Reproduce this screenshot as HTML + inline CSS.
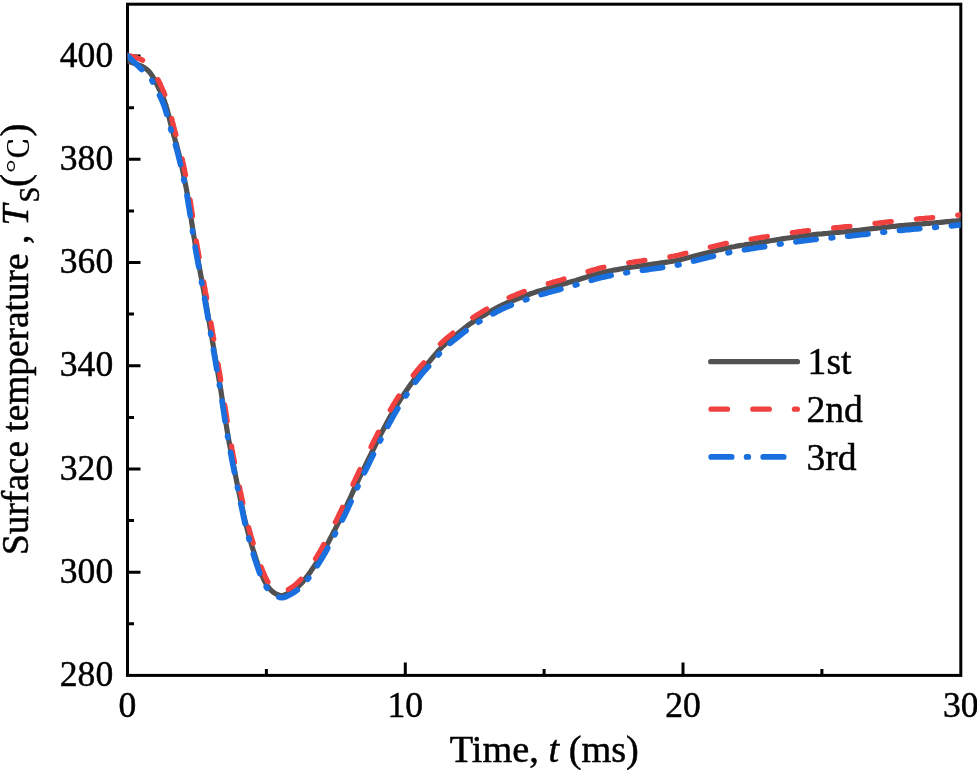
<!DOCTYPE html>
<html lang="en">
<head>
<meta charset="utf-8">
<title>Surface temperature vs time</title>
<style>
html,body{margin:0;padding:0;background:#fff;}
body{width:977px;height:770px;overflow:hidden;position:relative;font-family:"Liberation Serif","Times New Roman",serif;}
</style>
</head>
<body>
<svg width="977" height="770" viewBox="0 0 977 770" style="position:absolute;left:0;top:0">
<rect x="0" y="0" width="977" height="770" fill="#ffffff"/>
<rect x="127.5" y="4.2" width="833.3" height="671.2" fill="none" stroke="#000" stroke-width="3"/>
<path d="M127.5,623.8h6.5 M127.5,572.2h13 M127.5,520.6h6.5 M127.5,469.0h13 M127.5,417.4h6.5 M127.5,365.8h13 M127.5,314.1h6.5 M127.5,262.5h13 M127.5,210.9h6.5 M127.5,159.3h13 M127.5,107.7h6.5 M127.5,56.1h13 M266.4,675.4v-6.5 M405.3,675.4v-13 M544.1,675.4v-6.5 M683.0,675.4v-13 M821.9,675.4v-6.5" stroke="#000" stroke-width="3" fill="none"/>
<defs><clipPath id="plotclip"><rect x="127.5" y="4.2" width="833.3" height="671.2"/></clipPath></defs>
<g fill="none" stroke-linecap="round" stroke-linejoin="round" clip-path="url(#plotclip)">
<path d="M127.0,60.8 L128.8,61.5 L130.7,62.1 L132.6,62.8 L134.6,63.4 L136.5,64.1 L138.5,64.9 L140.4,65.7 L142.3,66.5 L144.0,67.5 L145.7,68.6 L147.3,69.8 L148.7,71.2 L150.0,72.7 L151.2,74.3 L152.3,76.0 L153.4,77.8 L154.4,79.6 L155.3,81.4 L156.3,83.3 L157.2,85.1 L158.1,86.9 L159.0,88.8 L159.9,90.6 L160.8,92.4 L161.6,94.3 L162.4,96.1 L163.2,98.0 L164.0,99.8 L164.7,101.7 L165.3,103.6 L166.0,105.5 L166.5,107.4 L167.1,109.4 L167.6,111.3 L168.1,113.3 L168.6,115.2 L169.1,117.2 L169.5,119.2 L170.0,121.2 L170.5,123.1 L171.0,125.1 L171.5,127.1 L172.0,129.0 L172.5,131.0 L173.1,132.9 L173.7,134.9 L174.2,136.8 L174.8,138.7 L175.3,140.7 L175.9,142.6 L176.5,144.6 L177.0,146.5 L177.5,148.5 L178.0,150.4 L178.5,152.4 L179.0,154.3 L179.5,156.3 L180.0,158.3 L180.4,160.2 L180.9,162.2 L181.3,164.2 L181.7,166.2 L182.2,168.2 L182.6,170.1 L183.0,172.1 L183.4,174.1 L183.8,176.1 L184.2,178.1 L184.6,180.0 L185.0,182.0 L185.4,184.0 L185.8,186.0 L186.2,188.0 L186.6,190.0 L186.9,192.0 L187.3,193.9 L187.6,195.9 L188.0,197.9 L188.3,199.9 L188.6,201.9 L189.0,203.9 L189.3,205.9 L189.6,207.9 L189.9,209.9 L190.2,211.9 L190.5,213.9 L190.8,215.9 L191.1,217.9 L191.4,219.9 L191.6,221.9 L192.0,223.9 L192.3,225.9 L192.6,227.9 L192.9,229.9 L193.2,231.9 L193.5,233.9 L193.8,235.9 L194.2,237.9 L194.5,239.9 L194.8,241.9 L195.2,243.9 L195.5,245.9 L195.8,247.9 L196.2,249.9 L196.5,251.9 L196.9,253.9 L197.2,255.9 L197.6,257.9 L198.0,259.8 L198.3,261.8 L198.7,263.8 L199.1,265.8 L199.4,267.8 L199.8,269.8 L200.2,271.8 L200.5,273.8 L200.9,275.8 L201.3,277.7 L201.7,279.7 L202.0,281.7 L202.4,283.7 L202.8,285.7 L203.1,287.7 L203.5,289.7 L203.9,291.7 L204.2,293.7 L204.6,295.6 L204.9,297.6 L205.3,299.6 L205.7,301.6 L206.0,303.6 L206.4,305.6 L206.7,307.6 L207.1,309.6 L207.4,311.6 L207.7,313.6 L208.1,315.6 L208.4,317.6 L208.8,319.6 L209.1,321.5 L209.5,323.5 L209.8,325.5 L210.1,327.5 L210.5,329.5 L210.8,331.5 L211.2,333.5 L211.5,335.5 L211.9,337.5 L212.2,339.5 L212.5,341.5 L212.9,343.5 L213.2,345.5 L213.6,347.5 L213.9,349.5 L214.2,351.5 L214.6,353.4 L214.9,355.4 L215.3,357.4 L215.6,359.4 L216.0,361.4 L216.3,363.4 L216.6,365.4 L217.0,367.4 L217.3,369.4 L217.7,371.4 L218.0,373.4 L218.3,375.4 L218.7,377.4 L219.0,379.4 L219.4,381.4 L219.7,383.4 L220.0,385.4 L220.3,387.3 L220.7,389.3 L221.0,391.3 L221.3,393.3 L221.6,395.3 L221.9,397.3 L222.2,399.3 L222.5,401.3 L222.9,403.3 L223.2,405.3 L223.5,407.3 L223.8,409.3 L224.1,411.3 L224.4,413.3 L224.7,415.3 L225.0,417.3 L225.3,419.3 L225.6,421.3 L225.9,423.3 L226.3,425.3 L226.6,427.3 L226.9,429.3 L227.3,431.3 L227.6,433.3 L227.9,435.3 L228.3,437.3 L228.6,439.3 L229.0,441.3 L229.3,443.3 L229.7,445.3 L230.1,447.2 L230.5,449.2 L230.8,451.2 L231.2,453.2 L231.6,455.2 L232.0,457.2 L232.3,459.2 L232.7,461.2 L233.1,463.1 L233.5,465.1 L233.9,467.1 L234.3,469.1 L234.7,471.1 L235.1,473.1 L235.4,475.1 L235.8,477.0 L236.2,479.0 L236.6,481.0 L237.0,483.0 L237.4,485.0 L237.9,486.9 L238.3,488.9 L238.7,490.9 L239.1,492.9 L239.5,494.9 L239.9,496.8 L240.3,498.8 L240.8,500.8 L241.2,502.8 L241.6,504.8 L242.0,506.7 L242.4,508.7 L242.9,510.7 L243.3,512.7 L243.7,514.6 L244.2,516.6 L244.6,518.6 L245.1,520.6 L245.5,522.5 L246.0,524.5 L246.5,526.5 L247.0,528.4 L247.5,530.4 L248.0,532.3 L248.5,534.3 L249.1,536.3 L249.6,538.2 L250.2,540.1 L250.8,542.1 L251.3,544.0 L251.9,546.0 L252.5,547.9 L253.1,549.8 L253.7,551.7 L254.4,553.7 L255.0,555.6 L255.6,557.5 L256.2,559.4 L256.9,561.3 L257.5,563.3 L258.2,565.2 L258.9,567.1 L259.6,569.0 L260.3,570.9 L261.0,572.8 L261.7,574.7 L262.5,576.6 L263.3,578.4 L264.2,580.3 L265.1,582.1 L266.1,583.9 L267.2,585.6 L268.3,587.2 L269.6,588.8 L271.0,590.3 L272.5,591.6 L274.1,592.8 L275.9,593.9 L277.8,594.8 L279.7,595.3 L281.7,595.5 L283.7,595.2 L285.6,594.5 L287.5,593.6 L289.3,592.6 L291.1,591.5 L292.8,590.4 L294.5,589.3 L296.1,588.1 L297.7,586.9 L299.2,585.5 L300.6,584.1 L302.0,582.7 L303.3,581.2 L304.6,579.6 L305.9,578.0 L307.1,576.4 L308.3,574.7 L309.5,573.1 L310.7,571.4 L311.8,569.7 L313.0,568.1 L314.1,566.4 L315.2,564.7 L316.4,563.0 L317.4,561.3 L318.5,559.6 L319.6,557.9 L320.6,556.2 L321.6,554.4 L322.6,552.7 L323.6,550.9 L324.6,549.2 L325.6,547.4 L326.6,545.6 L327.5,543.8 L328.5,542.0 L329.4,540.2 L330.3,538.4 L331.3,536.6 L332.2,534.8 L333.1,533.0 L334.0,531.2 L335.0,529.4 L335.9,527.6 L336.8,525.8 L337.7,524.0 L338.7,522.2 L339.6,520.4 L340.5,518.6 L341.4,516.8 L342.3,515.0 L343.1,513.2 L344.0,511.3 L344.9,509.5 L345.7,507.7 L346.6,505.8 L347.4,504.0 L348.3,502.2 L349.1,500.3 L349.9,498.5 L350.8,496.6 L351.6,494.8 L352.4,492.9 L353.2,491.1 L354.1,489.2 L354.9,487.4 L355.8,485.6 L356.6,483.7 L357.5,481.9 L358.3,480.1 L359.2,478.2 L360.1,476.4 L360.9,474.6 L361.8,472.8 L362.7,471.0 L363.6,469.1 L364.5,467.3 L365.4,465.5 L366.3,463.7 L367.1,461.9 L368.0,460.0 L368.9,458.2 L369.8,456.4 L370.7,454.6 L371.6,452.8 L372.5,451.0 L373.4,449.2 L374.3,447.3 L375.2,445.5 L376.1,443.7 L377.0,441.9 L377.9,440.1 L378.8,438.3 L379.7,436.5 L380.6,434.7 L381.5,432.9 L382.5,431.1 L383.4,429.3 L384.3,427.5 L385.3,425.7 L386.2,423.9 L387.2,422.1 L388.2,420.4 L389.1,418.6 L390.1,416.8 L391.1,415.0 L392.1,413.3 L393.1,411.5 L394.1,409.8 L395.2,408.0 L396.2,406.3 L397.2,404.6 L398.3,402.9 L399.4,401.1 L400.5,399.4 L401.6,397.7 L402.7,396.0 L403.8,394.4 L404.9,392.7 L406.1,391.0 L407.2,389.3 L408.4,387.7 L409.5,386.0 L410.7,384.4 L411.9,382.7 L413.1,381.1 L414.3,379.4 L415.5,377.8 L416.7,376.2 L418.0,374.7 L419.2,373.1 L420.5,371.5 L421.9,370.0 L423.2,368.5 L424.5,367.0 L425.9,365.4 L427.2,363.9 L428.5,362.4 L429.9,360.9 L431.2,359.3 L432.5,357.8 L433.8,356.2 L435.1,354.7 L436.4,353.1 L437.7,351.6 L439.1,350.1 L440.4,348.6 L441.8,347.2 L443.3,345.8 L444.8,344.4 L446.3,343.0 L447.8,341.7 L449.3,340.4 L450.9,339.1 L452.5,337.8 L454.1,336.6 L455.6,335.3 L457.2,334.0 L458.8,332.7 L460.4,331.5 L461.9,330.2 L463.5,328.9 L465.1,327.7 L466.7,326.4 L468.3,325.2 L469.9,324.0 L471.6,322.8 L473.3,321.7 L475.0,320.6 L476.7,319.5 L478.4,318.5 L480.1,317.5 L481.9,316.4 L483.6,315.4 L485.4,314.4 L487.1,313.3 L488.9,312.3 L490.6,311.3 L492.4,310.3 L494.1,309.3 L495.9,308.3 L497.7,307.3 L499.5,306.4 L501.3,305.5 L503.1,304.6 L504.9,303.8 L506.8,303.0 L508.7,302.2 L510.5,301.4 L512.4,300.7 L514.3,300.0 L516.2,299.2 L518.1,298.5 L520.0,297.8 L521.8,297.0 L523.7,296.3 L525.6,295.6 L527.5,294.9 L529.4,294.2 L531.3,293.5 L533.2,292.9 L535.2,292.2 L537.1,291.6 L539.0,291.0 L541.0,290.4 L542.9,289.9 L544.8,289.3 L546.8,288.7 L548.7,288.2 L550.7,287.6 L552.6,287.1 L554.6,286.5 L556.5,286.0 L558.5,285.4 L560.4,284.9 L562.4,284.3 L564.3,283.7 L566.2,283.2 L568.2,282.6 L570.1,282.1 L572.1,281.5 L574.0,280.9 L576.0,280.4 L577.9,279.8 L579.8,279.2 L581.8,278.6 L583.7,278.0 L585.6,277.4 L587.5,276.7 L589.5,276.1 L591.4,275.5 L593.3,275.0 L595.3,274.4 L597.2,273.9 L599.2,273.3 L601.1,272.9 L603.1,272.4 L605.1,271.9 L607.1,271.5 L609.0,271.1 L611.0,270.7 L613.0,270.3 L615.0,269.9 L617.0,269.6 L619.0,269.2 L621.0,268.9 L623.0,268.5 L625.0,268.2 L627.0,267.9 L629.0,267.6 L631.0,267.3 L633.0,267.0 L635.0,266.7 L637.0,266.4 L639.0,266.1 L641.0,265.8 L643.0,265.5 L645.0,265.2 L647.0,264.9 L649.0,264.7 L651.0,264.4 L653.0,264.1 L655.0,263.8 L657.0,263.5 L659.0,263.2 L661.0,262.9 L663.0,262.7 L665.0,262.4 L667.0,262.1 L669.0,261.8 L671.0,261.4 L673.0,261.1 L675.0,260.7 L677.0,260.3 L679.0,259.9 L680.9,259.4 L682.9,258.9 L684.8,258.5 L686.8,257.9 L688.8,257.4 L690.7,256.9 L692.7,256.4 L694.6,255.9 L696.6,255.4 L698.6,254.9 L700.5,254.4 L702.5,253.9 L704.5,253.4 L706.4,253.0 L708.4,252.5 L710.3,252.0 L712.3,251.5 L714.3,251.0 L716.2,250.6 L718.2,250.1 L720.2,249.6 L722.2,249.2 L724.1,248.7 L726.1,248.3 L728.1,247.9 L730.1,247.4 L732.0,247.0 L734.0,246.7 L736.0,246.3 L738.0,245.9 L740.0,245.6 L742.0,245.3 L744.0,245.0 L746.0,244.6 L748.0,244.3 L750.0,244.0 L752.0,243.7 L754.0,243.4 L756.0,243.0 L758.0,242.7 L760.0,242.4 L762.0,242.1 L764.0,241.8 L766.0,241.4 L768.0,241.1 L770.0,240.8 L772.0,240.5 L774.0,240.2 L776.0,239.9 L778.0,239.5 L780.0,239.2 L781.9,238.9 L783.9,238.6 L785.9,238.3 L787.9,238.0 L789.9,237.7 L792.0,237.4 L794.0,237.1 L796.0,236.8 L798.0,236.6 L800.0,236.3 L802.0,236.0 L804.0,235.8 L806.0,235.5 L808.0,235.3 L810.0,235.1 L812.0,234.9 L814.0,234.6 L816.0,234.4 L818.1,234.2 L820.1,234.0 L822.1,233.9 L824.1,233.7 L826.1,233.5 L828.1,233.3 L830.1,233.1 L832.2,232.9 L834.2,232.7 L836.2,232.5 L838.2,232.3 L840.2,232.2 L842.2,232.0 L844.2,231.8 L846.2,231.6 L848.3,231.3 L850.3,231.1 L852.3,230.9 L854.3,230.7 L856.3,230.5 L858.3,230.3 L860.3,230.1 L862.3,229.8 L864.3,229.6 L866.4,229.4 L868.4,229.2 L870.4,228.9 L872.4,228.7 L874.4,228.5 L876.4,228.3 L878.4,228.0 L880.4,227.8 L882.4,227.6 L884.5,227.4 L886.5,227.2 L888.5,226.9 L890.5,226.7 L892.5,226.5 L894.5,226.3 L896.5,226.1 L898.5,225.9 L900.6,225.7 L902.6,225.6 L904.6,225.4 L906.6,225.2 L908.6,225.0 L910.6,224.8 L912.6,224.7 L914.7,224.5 L916.7,224.3 L918.7,224.1 L920.7,224.0 L922.7,223.8 L924.7,223.6 L926.7,223.5 L928.8,223.3 L930.8,223.1 L932.8,223.0 L934.8,222.8 L936.8,222.6 L938.8,222.5 L940.9,222.3 L942.9,222.1 L944.9,221.9 L946.9,221.7 L948.9,221.6 L950.9,221.4 L952.9,221.2 L955.0,221.0 L957.0,220.8 L959.0,220.6 L961.0,220.4" stroke="#515151" stroke-width="5.2"/>
<path d="M127.0,55.2 L134.0,56.8 L141.8,59.7 L147.5,63.5 L152.5,69.5 L156.0,76.0 L160.1,83.7 L160.8,85.6 L161.7,87.5 L162.5,89.3 L163.4,91.2 L164.2,93.1 L164.9,95.0 L165.7,96.9 L166.4,98.9 L167.1,100.8 L167.8,102.8 L168.4,104.7 L168.9,106.7 L169.5,108.7 L170.0,110.7 L170.4,112.7 L170.9,114.7 L171.4,116.7 L171.8,118.6 L172.2,120.6 L172.7,122.6 L173.2,124.5 L173.7,126.5 L174.2,128.4 L174.7,130.4 L175.2,132.3 L175.8,134.2 L176.3,136.2 L176.9,138.1 L177.4,140.1 L178.0,142.0 L178.5,144.0 L179.0,146.0 L179.5,147.9 L180.0,149.9 L180.5,151.9 L181.0,153.9 L181.5,155.8 L181.9,157.8 L182.4,159.8 L182.8,161.8 L183.3,163.8 L183.7,165.8 L184.1,167.7 L184.5,169.7 L184.9,171.7 L185.3,173.7 L185.7,175.7 L186.1,177.7 L186.5,179.7 L186.9,181.7 L187.3,183.7 L187.6,185.6 L188.0,187.6 L188.4,189.6 L188.7,191.6 L189.1,193.6 L189.4,195.6 L189.8,197.6 L190.1,199.6 L190.4,201.6 L190.7,203.6 L191.0,205.7 L191.3,207.7 L191.6,209.7 L191.9,211.7 L192.2,213.7 L192.5,215.7 L192.7,217.7 L193.0,219.7 L193.3,221.7 L193.6,223.7 L193.9,225.7 L194.2,227.7 L194.5,229.7 L194.8,231.7 L195.1,233.7 L195.4,235.7 L195.8,237.7 L196.1,239.7 L196.4,241.6 L196.7,243.6 L197.1,245.6 L197.4,247.6 L197.8,249.6 L198.1,251.6 L198.5,253.6 L198.8,255.6 L199.2,257.6 L199.5,259.6 L199.9,261.5 L200.3,263.5 L200.6,265.5 L201.0,267.5 L201.4,269.5 L201.7,271.5 L202.1,273.5 L202.5,275.5 L202.9,277.4 L203.2,279.4 L203.6,281.4 L204.0,283.4 L204.3,285.4 L204.7,287.4 L205.1,289.4 L205.4,291.4 L205.8,293.4 L206.2,295.4 L206.5,297.4 L206.9,299.3 L207.2,301.3 L207.6,303.3 L207.9,305.3 L208.3,307.3 L208.6,309.3 L209.0,311.3 L209.3,313.3 L209.7,315.3 L210.0,317.3 L210.4,319.3 L210.7,321.3 L211.0,323.3 L211.4,325.3 L211.7,327.3 L212.1,329.3 L212.4,331.2 L212.7,333.2 L213.1,335.2 L213.4,337.2 L213.8,339.2 L214.1,341.2 L214.5,343.2 L214.8,345.2 L215.1,347.2 L215.5,349.2 L215.8,351.2 L216.2,353.2 L216.5,355.2 L216.8,357.2 L217.2,359.2 L217.5,361.1 L217.9,363.1 L218.2,365.1 L218.6,367.1 L218.9,369.1 L219.2,371.1 L219.6,373.1 L219.9,375.1 L220.3,377.1 L220.6,379.1 L220.9,381.1 L221.3,383.1 L221.6,385.1 L221.9,387.1 L222.2,389.1 L222.6,391.1 L222.9,393.1 L223.2,395.1 L223.5,397.1 L223.8,399.1 L224.1,401.1 L224.4,403.1 L224.7,405.1 L225.0,407.1 L225.4,409.1 L225.7,411.1 L226.0,413.1 L226.3,415.1 L226.6,417.1 L226.9,419.1 L227.2,421.1 L227.5,423.1 L227.8,425.1 L228.2,427.1 L228.5,429.1 L228.8,431.0 L229.2,433.0 L229.5,435.0 L229.9,437.0 L230.2,439.0 L230.6,441.0 L230.9,443.0 L231.3,445.0 L231.7,447.0 L232.0,448.9 L232.4,450.9 L232.8,452.9 L233.1,454.9 L233.5,456.9 L233.9,458.9 L234.3,460.9 L234.7,462.8 L235.1,464.8 L235.5,466.8 L235.8,468.8 L236.2,470.8 L236.6,472.8 L237.0,474.7 L237.4,476.7 L237.8,478.7 L238.2,480.7 L238.6,482.7 L239.0,484.6 L239.4,486.6 L239.8,488.6 L240.2,490.6 L240.7,492.6 L241.1,494.5 L241.5,496.5 L241.9,498.5 L242.3,500.5 L242.8,502.4 L243.2,504.4 L243.7,506.4 L244.1,508.4 L244.5,510.3 L245.0,512.3 L245.4,514.3 L245.9,516.2 L246.4,518.2 L246.8,520.2 L247.3,522.1 L247.8,524.1 L248.3,526.0 L248.8,528.0 L249.3,529.9 L249.8,531.9 L250.4,533.8 L250.9,535.7 L251.5,537.7 L252.1,539.6 L252.7,541.5 L253.3,543.4 L253.9,545.4 L254.5,547.3 L255.1,549.2 L255.7,551.1 L256.4,553.0 L257.0,554.9 L257.7,556.8 L258.3,558.7 L259.0,560.6 L259.6,562.5 L260.3,564.4 L261.0,566.3 L261.7,568.2 L262.4,570.0 L263.2,571.9 L264.0,573.8 L264.7,575.6 L265.6,577.4 L266.4,579.2 L267.3,580.9 L268.3,582.6 L269.3,584.1 L270.4,585.6 L271.6,587.0 L272.9,588.3 L274.3,589.5 L275.7,590.5 L277.3,591.4 L278.8,592.0 L280.3,592.4 L281.6,592.4 L282.9,592.1 L284.4,591.6 L286.0,590.8 L287.8,589.8 L289.5,588.8 L291.1,587.8 L292.7,586.7 L294.2,585.6 L295.7,584.5 L297.0,583.2 L298.4,581.9 L299.7,580.6 L301.0,579.1 L302.2,577.6 L303.4,576.1 L304.6,574.5 L305.8,572.9 L307.0,571.3 L308.1,569.6 L309.3,568.0 L310.4,566.3 L311.6,564.7 L312.7,563.0 L313.8,561.4 L314.9,559.7 L315.9,558.0 L317.0,556.3 L318.0,554.6 L319.0,552.9 L320.0,551.2 L321.0,549.4 L322.0,547.7 L322.9,545.9 L323.9,544.2 L324.8,542.4 L325.8,540.6 L326.7,538.8 L327.7,537.0 L328.6,535.2 L329.5,533.4 L330.4,531.6 L331.4,529.8 L332.3,528.0 L333.2,526.3 L334.1,524.5 L335.0,522.7 L336.0,520.9 L336.9,519.1 L337.8,517.3 L338.6,515.5 L339.5,513.6 L340.4,511.8 L341.3,510.0 L342.1,508.2 L343.0,506.4 L343.8,504.6 L344.6,502.7 L345.5,500.9 L346.3,499.1 L347.1,497.2 L348.0,495.4 L348.8,493.5 L349.6,491.7 L350.4,489.8 L351.3,488.0 L352.1,486.1 L353.0,484.3 L353.8,482.4 L354.7,480.6 L355.5,478.8 L356.4,476.9 L357.3,475.1 L358.1,473.3 L359.0,471.4 L359.9,469.6 L360.8,467.8 L361.7,466.0 L362.6,464.1 L363.4,462.3 L364.3,460.5 L365.2,458.7 L366.1,456.9 L367.0,455.0 L367.9,453.2 L368.8,451.4 L369.7,449.6 L370.6,447.8 L371.4,445.9 L372.3,444.1 L373.2,442.3 L374.1,440.5 L375.0,438.7 L376.0,436.9 L376.9,435.0 L377.8,433.2 L378.7,431.4 L379.6,429.6 L380.6,427.8 L381.5,426.0 L382.5,424.2 L383.4,422.4 L384.4,420.6 L385.4,418.8 L386.3,417.0 L387.3,415.2 L388.3,413.5 L389.3,411.7 L390.3,409.9 L391.4,408.2 L392.4,406.4 L393.4,404.6 L394.5,402.9 L395.6,401.1 L396.6,399.4 L397.7,397.7 L398.8,396.0 L400.0,394.3 L401.1,392.6 L402.2,390.9 L403.4,389.2 L404.5,387.5 L405.7,385.8 L406.8,384.1 L408.0,382.5 L409.2,380.8 L410.4,379.1 L411.6,377.5 L412.9,375.8 L414.1,374.2 L415.4,372.6 L416.7,371.0 L418.0,369.4 L419.4,367.8 L420.7,366.3 L422.0,364.8 L423.4,363.3 L424.7,361.7 L426.0,360.2 L427.3,358.7 L428.6,357.2 L429.9,355.6 L431.2,354.1 L432.5,352.5 L433.8,351.0 L435.2,349.4 L436.6,347.8 L438.0,346.3 L439.4,344.8 L441.0,343.3 L442.5,341.9 L444.0,340.5 L445.6,339.1 L447.2,337.8 L448.7,336.5 L450.3,335.2 L451.9,333.9 L453.5,332.6 L455.0,331.3 L456.6,330.0 L458.1,328.7 L459.7,327.4 L461.3,326.1 L462.9,324.8 L464.5,323.5 L466.1,322.3 L467.8,321.0 L469.5,319.8 L471.2,318.6 L473.0,317.5 L474.7,316.4 L476.5,315.3 L478.2,314.2 L480.0,313.1 L481.7,312.1 L483.4,311.0 L485.1,310.0 L486.9,309.0 L488.6,307.9 L490.4,306.8 L492.2,305.8 L494.0,304.8 L495.8,303.8 L497.6,302.8 L499.5,301.8 L501.4,300.9 L503.3,300.0 L505.2,299.2 L507.1,298.4 L509.0,297.6 L510.9,296.8 L512.8,296.0 L514.6,295.3 L516.5,294.5 L518.4,293.7 L520.3,293.0 L522.2,292.3 L524.1,291.5 L526.0,290.8 L528.0,290.1 L529.9,289.4 L531.8,288.7 L533.8,288.0 L535.8,287.4 L537.7,286.8 L539.7,286.2 L541.6,285.6 L543.6,285.0 L545.5,284.4 L547.5,283.8 L549.4,283.3 L551.4,282.7 L553.3,282.1 L555.3,281.6 L557.2,281.0 L559.2,280.4 L561.1,279.9 L563.0,279.3 L565.0,278.7 L566.9,278.2 L568.8,277.6 L570.8,277.0 L572.7,276.4 L574.6,275.8 L576.5,275.3 L578.4,274.7 L580.3,274.0 L582.2,273.4 L584.2,272.8 L586.1,272.2 L588.0,271.5 L590.0,270.9 L592.0,270.3 L594.0,269.7 L596.0,269.2 L598.0,268.6 L600.0,268.1 L602.0,267.6 L604.0,267.2 L606.0,266.7 L608.1,266.3 L610.1,265.9 L612.1,265.5 L614.1,265.1 L616.1,264.8 L618.2,264.4 L620.2,264.1 L622.2,263.7 L624.2,263.4 L626.2,263.1 L628.2,262.8 L630.3,262.5 L632.3,262.2 L634.3,261.9 L636.3,261.6 L638.3,261.3 L640.3,261.0 L642.3,260.7 L644.3,260.4 L646.3,260.1 L648.3,259.9 L650.3,259.6 L652.3,259.3 L654.3,259.0 L656.3,258.7 L658.3,258.4 L660.3,258.2 L662.3,257.9 L664.3,257.6 L666.3,257.3 L668.3,257.0 L670.2,256.7 L672.2,256.3 L674.1,256.0 L676.0,255.6 L677.9,255.2 L679.8,254.7 L681.7,254.3 L683.7,253.8 L685.6,253.3 L687.6,252.8 L689.5,252.3 L691.5,251.8 L693.5,251.3 L695.4,250.8 L697.4,250.3 L699.4,249.8 L701.3,249.3 L703.3,248.8 L705.3,248.3 L707.2,247.8 L709.2,247.4 L711.2,246.9 L713.1,246.4 L715.1,245.9 L717.1,245.4 L719.1,245.0 L721.1,244.5 L723.1,244.1 L725.1,243.6 L727.1,243.2 L729.1,242.8 L731.1,242.4 L733.1,242.0 L735.2,241.6 L737.2,241.3 L739.2,240.9 L741.2,240.6 L743.2,240.3 L745.2,239.9 L747.2,239.6 L749.2,239.3 L751.2,239.0 L753.2,238.7 L755.2,238.4 L757.2,238.0 L759.2,237.7 L761.2,237.4 L763.2,237.1 L765.2,236.8 L767.2,236.5 L769.2,236.1 L771.2,235.8 L773.2,235.5 L775.2,235.2 L777.2,234.9 L779.2,234.6 L781.2,234.3 L783.2,233.9 L785.2,233.6 L787.2,233.3 L789.3,233.0 L791.3,232.7 L793.3,232.5 L795.3,232.2 L797.3,231.9 L799.4,231.6 L801.4,231.4 L803.4,231.1 L805.4,230.8 L807.5,230.6 L809.5,230.4 L811.5,230.1 L813.5,229.9 L815.6,229.7 L817.6,229.5 L819.6,229.3 L821.6,229.1 L823.6,228.9 L825.7,228.7 L827.7,228.5 L829.7,228.3 L831.7,228.1 L833.7,227.9 L835.7,227.7 L837.7,227.5 L839.7,227.3 L841.7,227.1 L843.7,226.9 L845.8,226.7 L847.8,226.5 L849.8,226.3 L851.8,226.0 L853.8,225.8 L855.8,225.6 L857.8,225.4 L859.8,225.2 L861.8,224.9 L863.8,224.7 L865.8,224.5 L867.8,224.2 L869.8,224.0 L871.8,223.8 L873.8,223.5 L875.9,223.3 L877.9,223.1 L879.9,222.8 L881.9,222.6 L883.9,222.4 L885.9,222.1 L887.9,221.9 L890.0,221.7 L892.0,221.5 L894.0,221.3 L896.0,221.1 L898.1,220.9 L900.1,220.7 L902.1,220.5 L904.1,220.3 L906.1,220.1 L908.2,219.9 L910.2,219.7 L912.2,219.5 L914.2,219.3 L916.2,219.1 L918.2,218.9 L920.3,218.7 L922.3,218.5 L924.3,218.4 L926.3,218.2 L928.3,218.0 L930.3,217.8 L932.3,217.6 L934.4,217.4 L936.4,217.2 L938.4,217.1 L940.4,216.9 L942.4,216.7 L944.4,216.5 L946.4,216.3 L948.4,216.1 L950.4,215.9 L952.4,215.7 L954.4,215.5 L956.4,215.3 L958.4,215.0 L960.4,214.8" stroke="#f14040" stroke-width="5.2" stroke-dasharray="16.5 25.12"/>
<path d="M127.0,55.3 L134.5,62.5 L141.3,69.1 L147.0,74.5 L151.5,79.5 L153.9,84.5 L154.9,86.3 L155.8,88.1 L156.8,89.9 L157.7,91.6 L158.6,93.4 L159.5,95.2 L160.4,97.0 L161.2,98.8 L162.0,100.6 L162.8,102.4 L163.5,104.2 L164.2,106.1 L164.8,107.9 L165.4,109.8 L166.0,111.7 L166.5,113.7 L167.1,115.6 L167.6,117.6 L168.1,119.5 L168.6,121.5 L169.2,123.5 L169.7,125.4 L170.3,127.4 L170.8,129.3 L171.4,131.3 L172.0,133.2 L172.6,135.2 L173.1,137.1 L173.7,139.0 L174.3,141.0 L174.9,142.9 L175.5,144.8 L176.0,146.8 L176.6,148.7 L177.1,150.7 L177.6,152.6 L178.1,154.6 L178.6,156.5 L179.1,158.5 L179.6,160.4 L180.0,162.4 L180.5,164.4 L180.9,166.3 L181.4,168.3 L181.8,170.3 L182.2,172.3 L182.7,174.2 L183.1,176.2 L183.5,178.2 L183.9,180.2 L184.3,182.2 L184.8,184.1 L185.2,186.1 L185.6,188.1 L185.9,190.1 L186.3,192.1 L186.7,194.1 L187.1,196.0 L187.4,198.0 L187.8,200.0 L188.1,202.0 L188.4,204.0 L188.7,206.0 L189.1,208.0 L189.4,210.0 L189.7,212.0 L190.0,214.0 L190.3,216.0 L190.6,218.0 L190.9,220.0 L191.2,222.0 L191.5,224.0 L191.8,226.0 L192.1,228.0 L192.4,230.0 L192.7,232.0 L193.0,234.0 L193.3,236.0 L193.7,238.0 L194.0,240.0 L194.3,242.0 L194.7,244.0 L195.0,246.0 L195.3,248.0 L195.7,250.0 L196.0,252.0 L196.4,254.0 L196.7,255.9 L197.1,257.9 L197.5,259.9 L197.8,261.9 L198.2,263.9 L198.6,265.9 L198.9,267.9 L199.3,269.9 L199.7,271.9 L200.0,273.9 L200.4,275.8 L200.8,277.8 L201.2,279.8 L201.5,281.8 L201.9,283.8 L202.3,285.8 L202.6,287.8 L203.0,289.8 L203.4,291.8 L203.7,293.7 L204.1,295.7 L204.5,297.7 L204.8,299.7 L205.2,301.7 L205.5,303.7 L205.9,305.7 L206.2,307.7 L206.6,309.7 L206.9,311.7 L207.3,313.7 L207.6,315.7 L207.9,317.6 L208.3,319.6 L208.6,321.6 L209.0,323.6 L209.3,325.6 L209.7,327.6 L210.0,329.6 L210.3,331.6 L210.7,333.6 L211.0,335.6 L211.4,337.6 L211.7,339.6 L212.0,341.6 L212.4,343.6 L212.7,345.6 L213.1,347.6 L213.4,349.5 L213.7,351.5 L214.1,353.5 L214.4,355.5 L214.8,357.5 L215.1,359.5 L215.5,361.5 L215.8,363.5 L216.1,365.5 L216.5,367.5 L216.8,369.5 L217.2,371.5 L217.5,373.5 L217.9,375.5 L218.2,377.5 L218.5,379.5 L218.9,381.4 L219.2,383.4 L219.5,385.4 L219.8,387.4 L220.2,389.4 L220.5,391.4 L220.8,393.4 L221.1,395.4 L221.4,397.4 L221.7,399.4 L222.1,401.4 L222.4,403.4 L222.7,405.4 L223.0,407.4 L223.3,409.4 L223.6,411.4 L223.9,413.4 L224.2,415.4 L224.5,417.4 L224.8,419.4 L225.1,421.4 L225.5,423.4 L225.8,425.4 L226.1,427.4 L226.4,429.4 L226.8,431.4 L227.1,433.4 L227.4,435.4 L227.8,437.4 L228.1,439.4 L228.5,441.4 L228.9,443.4 L229.2,445.3 L229.6,447.3 L230.0,449.3 L230.3,451.3 L230.7,453.3 L231.1,455.3 L231.5,457.3 L231.8,459.3 L232.2,461.3 L232.6,463.2 L233.0,465.2 L233.4,467.2 L233.8,469.2 L234.2,471.2 L234.6,473.2 L235.0,475.1 L235.4,477.1 L235.8,479.1 L236.2,481.1 L236.6,483.1 L237.0,485.1 L237.4,487.0 L237.8,489.0 L238.2,491.0 L238.6,493.0 L239.0,495.0 L239.4,497.0 L239.8,498.9 L240.2,500.9 L240.6,502.9 L241.0,504.9 L241.5,506.9 L241.9,508.8 L242.3,510.8 L242.7,512.8 L243.1,514.8 L243.5,516.8 L244.0,518.7 L244.4,520.7 L244.8,522.7 L245.3,524.7 L245.8,526.7 L246.2,528.6 L246.7,530.6 L247.2,532.6 L247.7,534.5 L248.2,536.5 L248.8,538.4 L249.3,540.4 L249.9,542.3 L250.4,544.3 L251.0,546.2 L251.6,548.2 L252.2,550.1 L252.7,552.1 L253.3,554.0 L253.9,555.9 L254.5,557.9 L255.1,559.8 L255.8,561.7 L256.4,563.6 L257.0,565.6 L257.7,567.5 L258.4,569.4 L259.0,571.3 L259.7,573.3 L260.5,575.2 L261.2,577.1 L262.0,579.0 L262.9,580.9 L263.8,582.8 L264.8,584.6 L265.9,586.4 L267.1,588.2 L268.4,589.9 L269.8,591.5 L271.4,593.0 L273.1,594.3 L275.0,595.6 L277.1,596.6 L279.4,597.3 L281.8,597.6 L284.2,597.3 L286.5,596.5 L288.5,595.5 L290.4,594.5 L292.3,593.4 L294.0,592.3 L295.8,591.1 L297.5,589.9 L299.1,588.5 L300.7,587.1 L302.2,585.7 L303.6,584.2 L305.0,582.6 L306.3,581.0 L307.6,579.3 L308.9,577.7 L310.1,576.0 L311.3,574.3 L312.5,572.7 L313.6,571.0 L314.8,569.3 L315.9,567.6 L317.1,565.9 L318.2,564.2 L319.3,562.5 L320.4,560.8 L321.5,559.0 L322.5,557.3 L323.5,555.5 L324.6,553.8 L325.6,552.0 L326.6,550.2 L327.5,548.4 L328.5,546.6 L329.4,544.8 L330.4,543.0 L331.3,541.2 L332.3,539.4 L333.2,537.6 L334.1,535.8 L335.1,534.0 L336.0,532.2 L336.9,530.4 L337.9,528.6 L338.8,526.8 L339.7,525.0 L340.7,523.2 L341.6,521.4 L342.5,519.6 L343.4,517.8 L344.3,516.0 L345.2,514.1 L346.1,512.3 L346.9,510.5 L347.8,508.6 L348.6,506.8 L349.5,504.9 L350.3,503.1 L351.2,501.3 L352.0,499.4 L352.8,497.6 L353.7,495.7 L354.5,493.9 L355.3,492.0 L356.2,490.2 L357.0,488.4 L357.9,486.5 L358.7,484.7 L359.6,482.9 L360.4,481.1 L361.3,479.2 L362.2,477.4 L363.0,475.6 L363.9,473.8 L364.8,472.0 L365.7,470.2 L366.6,468.3 L367.5,466.5 L368.4,464.7 L369.3,462.9 L370.1,461.1 L371.0,459.3 L371.9,457.5 L372.8,455.6 L373.7,453.8 L374.6,452.0 L375.5,450.2 L376.4,448.4 L377.3,446.6 L378.2,444.8 L379.1,443.0 L380.0,441.2 L380.9,439.4 L381.8,437.6 L382.8,435.8 L383.7,434.0 L384.6,432.2 L385.5,430.4 L386.5,428.6 L387.4,426.8 L388.4,425.1 L389.3,423.3 L390.3,421.5 L391.3,419.8 L392.3,418.0 L393.2,416.2 L394.2,414.5 L395.2,412.8 L396.3,411.0 L397.3,409.3 L398.3,407.6 L399.4,405.9 L400.4,404.2 L401.5,402.5 L402.6,400.8 L403.7,399.1 L404.8,397.4 L405.9,395.8 L407.0,394.1 L408.1,392.4 L409.3,390.8 L410.4,389.1 L411.6,387.5 L412.8,385.8 L413.9,384.2 L415.1,382.6 L416.3,381.0 L417.5,379.4 L418.7,377.8 L420.0,376.3 L421.2,374.7 L422.5,373.2 L423.8,371.7 L425.1,370.2 L426.5,368.7 L427.8,367.2 L429.2,365.7 L430.5,364.1 L431.9,362.6 L433.2,361.0 L434.5,359.5 L435.8,357.9 L437.1,356.4 L438.4,354.8 L439.7,353.3 L441.0,351.9 L442.4,350.4 L443.7,349.0 L445.1,347.7 L446.6,346.4 L448.0,345.1 L449.5,343.8 L451.1,342.5 L452.6,341.2 L454.2,340.0 L455.8,338.7 L457.4,337.5 L459.0,336.2 L460.6,334.9 L462.2,333.7 L463.7,332.4 L465.3,331.2 L466.9,330.0 L468.5,328.8 L470.1,327.6 L471.7,326.5 L473.3,325.3 L475.0,324.3 L476.6,323.2 L478.3,322.2 L480.0,321.2 L481.8,320.2 L483.5,319.2 L485.3,318.2 L487.0,317.2 L488.8,316.2 L490.6,315.2 L492.3,314.2 L494.0,313.2 L495.8,312.2 L497.5,311.3 L499.3,310.4 L501.0,309.5 L502.8,308.6 L504.6,307.8 L506.4,307.0 L508.2,306.3 L510.0,305.6 L511.9,304.8 L513.8,304.1 L515.6,303.4 L517.5,302.7 L519.4,302.0 L521.3,301.3 L523.2,300.6 L525.1,299.9 L527.0,299.2 L528.9,298.5 L530.7,297.9 L532.6,297.2 L534.5,296.6 L536.4,296.0 L538.3,295.4 L540.2,294.8 L542.1,294.3 L544.0,293.7 L546.0,293.2 L547.9,292.6 L549.9,292.1 L551.8,291.6 L553.7,291.0 L555.7,290.5 L557.6,290.0 L559.6,289.4 L561.6,288.9 L563.5,288.4 L565.5,287.8 L567.4,287.3 L569.4,286.8 L571.3,286.2 L573.3,285.7 L575.2,285.1 L577.2,284.5 L579.2,284.0 L581.1,283.4 L583.1,282.8 L585.0,282.2 L587.0,281.6 L588.9,281.0 L590.8,280.4 L592.7,279.9 L594.6,279.3 L596.5,278.8 L598.4,278.3 L600.3,277.8 L602.2,277.3 L604.2,276.9 L606.1,276.4 L608.0,276.0 L610.0,275.6 L611.9,275.2 L613.9,274.8 L615.8,274.5 L617.8,274.1 L619.8,273.8 L621.8,273.4 L623.7,273.1 L625.7,272.8 L627.7,272.5 L629.7,272.2 L631.7,271.9 L633.7,271.6 L635.7,271.3 L637.7,271.0 L639.7,270.7 L641.7,270.4 L643.7,270.1 L645.7,269.8 L647.7,269.6 L649.7,269.3 L651.7,269.0 L653.7,268.7 L655.7,268.4 L657.7,268.2 L659.7,267.9 L661.7,267.6 L663.7,267.3 L665.7,267.0 L667.7,266.7 L669.8,266.4 L671.8,266.1 L673.8,265.7 L675.9,265.3 L678.0,264.9 L680.0,264.5 L682.0,264.0 L684.0,263.5 L686.0,263.0 L688.0,262.5 L690.0,262.0 L691.9,261.5 L693.9,261.0 L695.8,260.5 L697.8,260.0 L699.7,259.5 L701.7,259.0 L703.6,258.5 L705.6,258.1 L707.6,257.6 L709.5,257.1 L711.5,256.6 L713.4,256.2 L715.4,255.7 L717.4,255.2 L719.3,254.7 L721.3,254.3 L723.2,253.8 L725.2,253.4 L727.1,253.0 L729.1,252.5 L731.0,252.1 L733.0,251.8 L734.9,251.4 L736.9,251.0 L738.8,250.7 L740.8,250.4 L742.8,250.0 L744.8,249.7 L746.7,249.4 L748.7,249.1 L750.7,248.8 L752.7,248.5 L754.7,248.1 L756.7,247.8 L758.7,247.5 L760.7,247.2 L762.7,246.9 L764.7,246.6 L766.7,246.2 L768.7,245.9 L770.7,245.6 L772.7,245.3 L774.7,245.0 L776.7,244.7 L778.7,244.3 L780.7,244.0 L782.7,243.7 L784.7,243.4 L786.7,243.1 L788.7,242.8 L790.7,242.5 L792.7,242.2 L794.6,242.0 L796.6,241.7 L798.6,241.4 L800.6,241.2 L802.6,240.9 L804.6,240.6 L806.6,240.4 L808.6,240.1 L810.5,239.9 L812.5,239.7 L814.5,239.5 L816.5,239.3 L818.5,239.1 L820.5,238.9 L822.5,238.7 L824.5,238.5 L826.6,238.3 L828.6,238.1 L830.6,237.9 L832.6,237.7 L834.6,237.5 L836.6,237.3 L838.7,237.1 L840.7,236.9 L842.7,236.7 L844.7,236.5 L846.7,236.3 L848.7,236.1 L850.8,235.9 L852.8,235.6 L854.8,235.4 L856.8,235.2 L858.8,235.0 L860.8,234.7 L862.9,234.5 L864.9,234.3 L866.9,234.1 L868.9,233.8 L870.9,233.6 L872.9,233.4 L874.9,233.1 L876.9,232.9 L878.9,232.7 L880.9,232.4 L882.9,232.2 L885.0,232.0 L887.0,231.8 L889.0,231.5 L891.0,231.3 L893.0,231.1 L895.0,230.9 L897.0,230.7 L899.0,230.5 L901.0,230.3 L903.0,230.1 L905.0,229.9 L907.0,229.7 L909.0,229.6 L911.0,229.4 L913.0,229.2 L915.0,229.0 L917.1,228.8 L919.1,228.7 L921.1,228.5 L923.1,228.3 L925.1,228.1 L927.1,228.0 L929.1,227.8 L931.2,227.6 L933.2,227.4 L935.2,227.3 L937.2,227.1 L939.2,226.9 L941.2,226.7 L943.3,226.5 L945.3,226.4 L947.3,226.2 L949.3,226.0 L951.3,225.8 L953.4,225.6 L955.4,225.4 L957.4,225.2 L959.4,225.0 L961.4,224.8" stroke="#1a6fdf" stroke-width="5.7" stroke-dasharray="20.5 14.95 1.7 14.96"/>
</g>
<g font-family="'Liberation Serif', 'Times New Roman', serif" font-size="35.6" fill="#000" stroke="#000" stroke-width="0.45">
<text x="113.2" y="686.0" text-anchor="end">280</text>
<text x="113.2" y="582.8" text-anchor="end">300</text>
<text x="113.2" y="479.6" text-anchor="end">320</text>
<text x="113.2" y="376.4" text-anchor="end">340</text>
<text x="113.2" y="273.1" text-anchor="end">360</text>
<text x="113.2" y="169.9" text-anchor="end">380</text>
<text x="113.2" y="66.7" text-anchor="end">400</text>
<text x="127.5" y="716.6" text-anchor="middle">0</text>
<text x="405.3" y="716.6" text-anchor="middle">10</text>
<text x="683.0" y="716.6" text-anchor="middle">20</text>
<text x="960.8" y="716.6" text-anchor="middle">30</text>
</g>
<g font-family="'Liberation Serif', 'Times New Roman', serif" font-size="38.3" fill="#000" stroke="#000" stroke-width="0.5">
<text x="449.8" y="762">Time, <tspan font-style="italic">t</tspan> (ms)</text>
<g transform="translate(28,555) rotate(-90)">
<text x="0" y="0" font-size="37.35">Surface temperature , <tspan font-style="italic">T</tspan></text>
<text x="352.5" y="10.5" font-size="28.5">S</text>
<text x="368" y="0" font-size="39">(</text>
<text transform="translate(381,1.2) scale(1,0.76)" x="0" y="0" font-size="37.5" stroke-width="0.3" font-family="'Noto Serif CJK SC', 'Liberation Serif', serif">℃</text>
<text x="418.6" y="0" font-size="39">)</text>
</g>
</g>
<g fill="none" stroke-linecap="round">
<path d="M710.7,361.7H797.5" stroke="#515151" stroke-width="5.2"/>
<path d="M711,409.2h16.5M752.8,409.2h16.5M794.4,409.2h3" stroke="#f14040" stroke-width="5.2"/>
<path d="M711.2,456.9h20.5M746.6,456.9h1.7M763.2,456.9h20.5" stroke="#1a6fdf" stroke-width="5.7"/>
</g>
<g font-family="'Liberation Serif', 'Times New Roman', serif" font-size="37.6" fill="#000" stroke="#000" stroke-width="0.45">
<text x="807.6" y="374.3">1st</text>
<text x="806.4" y="422.2">2nd</text>
<text x="806.4" y="469.9">3rd</text>
</g>
</svg>
</body>
</html>
